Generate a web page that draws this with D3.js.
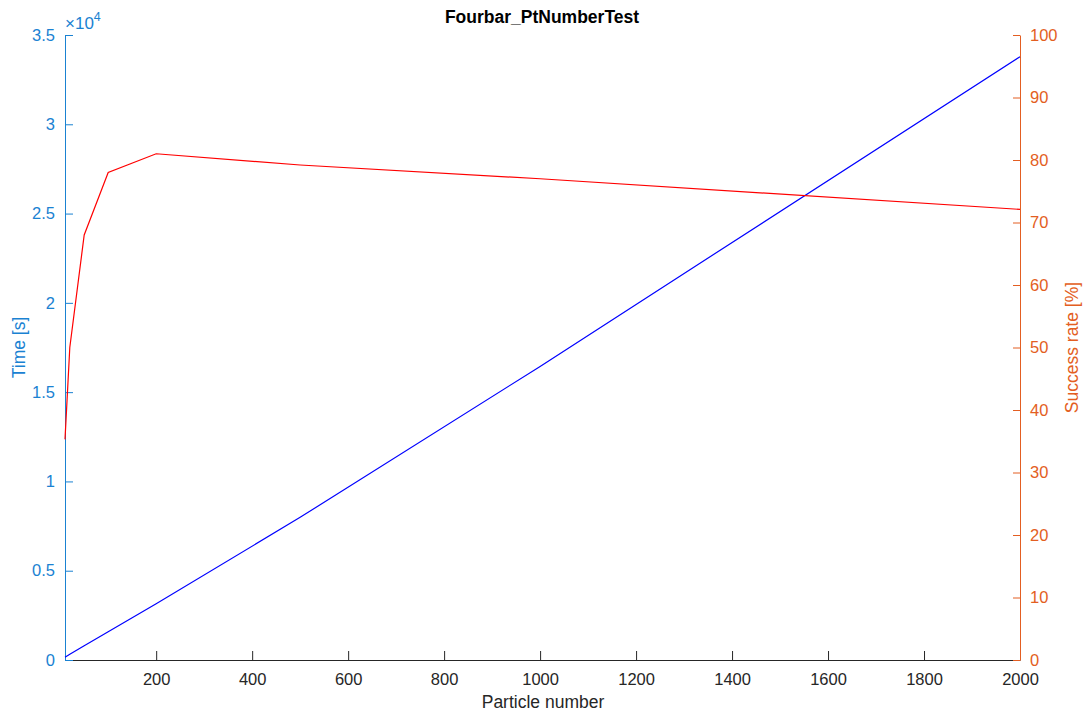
<!DOCTYPE html>
<html><head><meta charset="utf-8">
<script src="https://cdn.jsdelivr.net/npm/d3@7"></script>
<style>body{margin:0;background:#fff;} text{font-family:"Liberation Sans",Arial,Helvetica,sans-serif;}</style>
</head><body><svg id="c" width="1083" height="711"></svg>
<script>
const particles = [10, 20, 50, 100, 200, 500, 1000, 2000];
const timeSec = [160, 320, 800, 1580, 3150, 7990, 16440, 33785];
const successRate = [35.3, 50, 68, 78, 81, 79.2, 77, 72.1];
const xTicks = [200, 400, 600, 800, 1000, 1200, 1400, 1600, 1800, 2000];
const leftTicks = [0, 5000, 10000, 15000, 20000, 25000, 30000, 35000];
const rightTicks = [0, 10, 20, 30, 40, 50, 60, 70, 80, 90, 100];

const svg = d3.select("#c");
const L = 65, R = 1020, T = 35, B = 660;
const leftCol = "#1a82d2", rightCol = "#e35e22", axCol = "#262626";
const FS = 16.5;
const x = d3.scaleLinear().domain([10, 2000]).range([L, R]);
const yL = d3.scaleLinear().domain([0, 35000]).range([B, T]);
const yR = d3.scaleLinear().domain([0, 100]).range([B, T]);

// x axis
const gx = svg.append("g").attr("transform", `translate(0,${B})`)
  .call(d3.axisBottom(x).tickValues(xTicks).tickFormat(d3.format("d")).tickSizeInner(-9).tickSizeOuter(0).tickPadding(13));
gx.select(".domain").attr("stroke", axCol);
gx.selectAll(".tick line").attr("stroke", axCol);
gx.selectAll("text").attr("fill", axCol).attr("font-size", FS);

// left axis
const gl = svg.append("g").attr("transform", `translate(${L},0)`)
  .call(d3.axisLeft(yL).tickValues(leftTicks).tickFormat(d => d3.format("~g")(d / 10000)).tickSizeInner(-8).tickSizeOuter(0).tickPadding(10));
gl.select(".domain").attr("stroke", leftCol);
gl.selectAll(".tick line").attr("stroke", leftCol);
gl.selectAll("text").attr("fill", leftCol).attr("font-size", FS);

// right axis
const gr = svg.append("g").attr("transform", `translate(${R},0)`)
  .call(d3.axisRight(yR).tickValues(rightTicks).tickSizeInner(-7).tickSizeOuter(0).tickPadding(10));
gr.select(".domain").attr("stroke", rightCol);
gr.selectAll(".tick line").attr("stroke", rightCol);
gr.selectAll("text").attr("fill", rightCol).attr("font-size", FS);

// lines
const lineT = d3.line().x((d, i) => x(particles[i])).y(d => yL(d));
const lineS = d3.line().x((d, i) => x(particles[i])).y(d => yR(d));
svg.append("path").attr("d", lineT(timeSec)).attr("fill", "none").attr("stroke", "#0000ff").attr("stroke-width", 1.2);
svg.append("path").attr("d", lineS(successRate)).attr("fill", "none").attr("stroke", "#ff0000").attr("stroke-width", 1.2);

// exponent label
const ex = svg.append("text").attr("x", L).attr("y", 29).attr("fill", leftCol).attr("font-size", 17);
ex.append("tspan").text("\u00d710");
ex.append("tspan").attr("dy", -8).attr("font-size", 12.5).text("4");

// title
svg.append("text").attr("x", 542).attr("y", 23).attr("text-anchor", "middle")
  .attr("font-size", 17.5).attr("font-weight", "bold").attr("fill", "#000").text("Fourbar_PtNumberTest");
// x label
svg.append("text").attr("x", 543).attr("y", 708).attr("text-anchor", "middle")
  .attr("font-size", 17.5).attr("fill", axCol).text("Particle number");
// y labels
svg.append("text").attr("transform", `translate(25,${(T + B) / 2}) rotate(-90)`).attr("text-anchor", "middle")
  .attr("font-size", 17.5).attr("fill", leftCol).text("Time [s]");
svg.append("text").attr("transform", `translate(1078,${(T + B) / 2}) rotate(-90)`).attr("text-anchor", "middle")
  .attr("font-size", 17.5).attr("fill", rightCol).text("Success rate [%]");
</script></body></html>
